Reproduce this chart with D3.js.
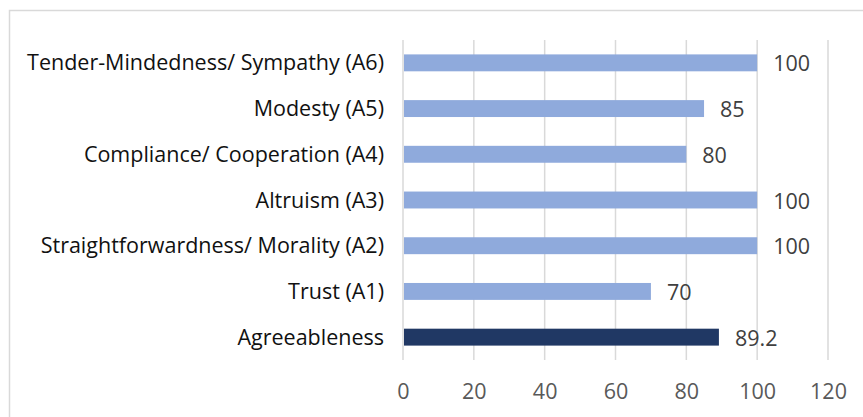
<!DOCTYPE html>
<html><head><meta charset="utf-8">
<script src="https://cdn.jsdelivr.net/npm/d3@7"></script>
<style>body{margin:0;background:#fff;}svg{display:block;font-family:"Open Sans",sans-serif;}</style>
</head><body><svg id="c" width="863" height="417"></svg>
<script>
const categories = ["Tender-Mindedness/ Sympathy (A6)","Modesty (A5)","Compliance/ Cooperation (A4)","Altruism (A3)","Straightforwardness/ Morality (A2)","Trust (A1)","Agreeableness"];
const values = [100,85,80,100,100,70,89.2];
const valueLabels = ["100","85","80","100","100","70","89.2"];
const tickValues = [0,20,40,60,80,100,120];
const barColors = ["#8FAADC","#8FAADC","#8FAADC","#8FAADC","#8FAADC","#8FAADC","#203864"];

const svg = d3.select("#c");
svg.append("rect").attr("x",9.5).attr("y",10.5).attr("width",900).attr("height",500)
  .attr("fill","#fff").attr("stroke","#d9d9d9").attr("stroke-width",1.5);

const x = d3.scaleLinear().domain([0,120]).range([403,828]);
const y = d3.scaleBand().domain(categories).range([40,360]).paddingInner(0.63).paddingOuter(0.315);

const g = svg.append("g");
g.selectAll("line.grid").data(tickValues).enter().append("line")
  .attr("x1",d=>x(d)).attr("x2",d=>x(d)).attr("y1",40).attr("y2",360)
  .attr("stroke","#d9d9d9").attr("stroke-width",1.5);

g.selectAll("rect.bar").data(categories).enter().append("rect")
  .attr("x",x(0)+1).attr("y",d=>y(d)).attr("height",y.bandwidth())
  .attr("width",(d,i)=>x(values[i])-x(0)-1).attr("fill",(d,i)=>barColors[i]);

g.selectAll("text.val").data(categories).enter().append("text")
  .attr("x",(d,i)=>x(values[i])+16).attr("y",d=>y(d)+y.bandwidth()/2+1)
  .attr("dy","0.35em").attr("fill","#404040").attr("font-size",21.5)
  .text((d,i)=>valueLabels[i]);

g.selectAll("text.cat").data(categories).enter().append("text")
  .attr("x",384).attr("y",d=>y(d)+y.bandwidth()/2).attr("dy","0.35em")
  .attr("text-anchor","end").attr("fill","#111").attr("font-size",21.5)
  .text(d=>d);

const ax = d3.axisBottom(x).tickValues(tickValues).tickSize(0).tickPadding(0);
const axg = svg.append("g").attr("transform","translate(0,360)").call(ax);
axg.select(".domain").remove();
axg.selectAll("text").attr("y",31).attr("dy","0.35em").attr("font-size",21.5).attr("fill","#595959").attr("font-family","Open Sans, sans-serif");
</script></body></html>
